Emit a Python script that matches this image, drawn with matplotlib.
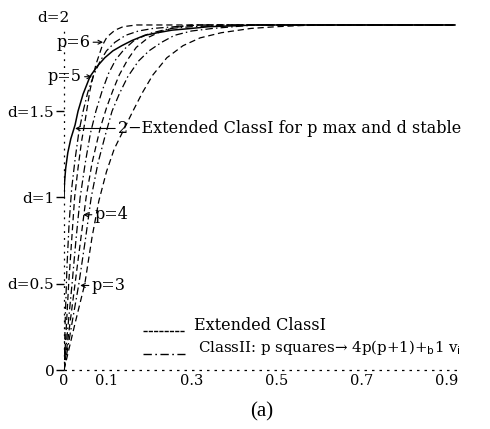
import numpy as np
import matplotlib.pyplot as plt

# curves: x (horizontal) and d (vertical)
x_end = 0.92

x_solid = [0, 0.001, 0.004, 0.009, 0.016, 0.026, 0.033, 0.045, 0.061, 0.078, 0.096,
           0.115, 0.136, 0.16, 0.19, 0.22, 0.254, 0.3, 0.34, 0.4, 0.45, x_end]
d_solid = [1.0, 1.08, 1.17, 1.26, 1.34, 1.42, 1.50, 1.60, 1.70, 1.76, 1.81,
           1.85, 1.88, 1.91, 1.94, 1.955, 1.97, 1.98, 1.99, 1.995, 2.0, 2.0]

# Extended ClassI (dashed)
x_ext = [
    [0, 0.011, 0.025, 0.033, 0.041, 0.05, 0.061, 0.075, 0.09, 0.101, 0.12, 0.139, 0.17, x_end],
    [0, 0.013, 0.026, 0.039, 0.052, 0.066, 0.085, 0.1, 0.115, 0.13, 0.15, 0.17, 0.2, 0.226,
     0.26, 0.3, x_end],
    [0, 0.025, 0.049, 0.066, 0.082, 0.1, 0.118, 0.14, 0.162, 0.185, 0.209, 0.242, 0.28, 0.32,
     0.37, 0.44, 0.5, 0.56, 0.65, x_end],
]
d_ext = [
    [0, 0.5, 1.0, 1.17, 1.32, 1.45, 1.62, 1.77, 1.88, 1.93, 1.97, 1.99, 2.0, 2.0],
    [0, 0.25, 0.5, 0.75, 1.0, 1.2, 1.4, 1.52, 1.62, 1.71, 1.8, 1.87, 1.93, 1.96,
     1.985, 2.0, 2.0],
    [0, 0.26, 0.5, 0.77, 0.98, 1.15, 1.28, 1.39, 1.5, 1.61, 1.71, 1.81, 1.88, 1.925,
     1.955, 1.98, 1.99, 1.997, 2.0, 2.0],
]

# ClassII (dash-dot)
x_c2 = [
    [0, 0.003, 0.007, 0.012, 0.018, 0.026, 0.035, 0.045, 0.056, 0.07, 0.085, 0.1, 0.12,
     0.145, 0.175, 0.21, 0.26, 0.32, x_end],
    [0, 0.01, 0.019, 0.028, 0.038, 0.05, 0.062, 0.075, 0.09, 0.105, 0.122, 0.142, 0.165,
     0.2, 0.25, 0.3, 0.4, x_end],
    [0, 0.018, 0.035, 0.05, 0.064, 0.08, 0.097, 0.113, 0.13, 0.15, 0.175, 0.2, 0.23,
     0.26, 0.3, 0.35, 0.45, x_end],
]
d_c2 = [
    [0, 0.3, 0.6, 0.85, 1.05, 1.22, 1.38, 1.5, 1.61, 1.71, 1.79, 1.85, 1.9,
     1.94, 1.965, 1.98, 1.99, 2.0, 2.0],
    [0, 0.27, 0.5, 0.75, 1.0, 1.2, 1.37, 1.5, 1.62, 1.72, 1.8, 1.86, 1.91,
     1.95, 1.98, 1.99, 2.0, 2.0],
    [0, 0.26, 0.5, 0.75, 1.0, 1.2, 1.36, 1.5, 1.6, 1.7, 1.79, 1.85, 1.9,
     1.94, 1.965, 1.98, 2.0, 2.0],
]

xticks = [0, 0.1, 0.3, 0.5, 0.7, 0.9]
xticklabels = ['0', '0.1', '0.3', '0.5', '0.7', '0.9']
yticks = [0, 0.5, 1.0, 1.5]
yticklabels = ['0', 'd=0.5', 'd=1', 'd=1.5']

plt.rcParams['font.family'] = ['DejaVu Serif']
fs = 11.5

fig = plt.figure(figsize=(4.9, 4.29), dpi=100)
ax = fig.add_axes([0.1306, 0.1375, 0.824, 0.8445])
ax.set_xlim(0, 0.95)
ax.set_ylim(0, 2.1)
for s in ax.spines.values():
    s.set_visible(False)

dash = (0, (5, 3))
dashdot = (0, (6, 2.5, 1.2, 2.5))

# dotted axes
ax.plot([0, 0.93], [0, 0], color='k', lw=0.9, ls=(0, (2, 4)), clip_on=False)
ax.plot([0, 0], [0, 1.98], color='k', lw=0.9, ls=(0, (1.5, 4)), clip_on=False)

ax.plot(x_solid, d_solid, color='k', lw=1.1)
for xs, ds in zip(x_ext, d_ext):
    ax.plot(xs, ds, color='k', lw=0.9, ls=dash)
for xs, ds in zip(x_c2, d_c2):
    ax.plot(xs, ds, color='k', lw=0.9, ls=dashdot)

ax.set_xticks(xticks)
ax.set_xticklabels(xticklabels, fontsize=10.5)
ax.set_yticks(yticks)
ax.set_yticklabels(yticklabels, fontsize=11)
ax.tick_params(axis='x', length=0, pad=3)
ax.tick_params(axis='y', length=6, width=1, pad=1, direction='out')

ax.text(-0.026, 2.04, 'd=2', fontsize=11, ha='center', va='center', clip_on=False)

arrow = dict(arrowstyle='->', lw=0.8, shrinkA=0, shrinkB=0, mutation_scale=7)
ax.annotate('p=6', xy=(0.092, 1.90), xytext=(0.062, 1.90), fontsize=fs,
            ha='right', va='center', arrowprops=arrow)
ax.annotate('p=5', xy=(0.066, 1.70), xytext=(0.042, 1.70), fontsize=fs,
            ha='right', va='center', arrowprops=arrow)
ax.annotate('p=4', xy=(0.045, 0.90), xytext=(0.072, 0.90), fontsize=fs,
            ha='left', va='center', arrowprops=arrow)
ax.annotate('p=3', xy=(0.038, 0.49), xytext=(0.065, 0.49), fontsize=fs,
            ha='left', va='center', arrowprops=arrow)
ax.annotate('2\u2212Extended ClassI for p max and d stable', xy=(0.026, 1.40),
            xytext=(0.127, 1.40), fontsize=fs, ha='left', va='center',
            arrowprops=arrow, annotation_clip=False)

# legend drawn as in the original
ax.plot([0.186, 0.285], [0.225, 0.225], color='k', lw=1.0, ls=(0, (3, 0.8)))
ax.text(0.305, 0.26, 'Extended ClassI', fontsize=fs, ha='left', va='center')
ax.plot([0.186, 0.285], [0.095, 0.095], color='k', lw=1.0, ls=dashdot)
ax.text(0.315, 0.128, 'ClassII: p squares\u2192 4p(p+1)+$_{\\rm b}$1 v$_{\\rm i}$',
        fontsize=10.8, ha='left', va='center')

fig.text(0.535, 0.04, '(a)', fontsize=15, family='Liberation Serif', ha='center', va='center')

fig.savefig('out.png', dpi=100)
